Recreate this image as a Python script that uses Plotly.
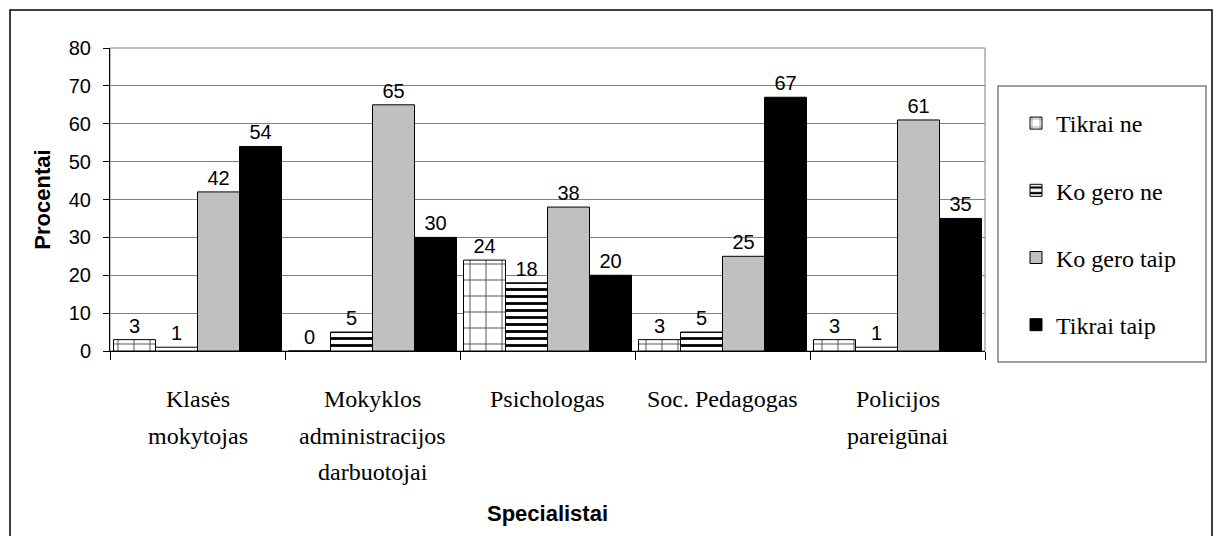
import plotly.graph_objects as go

categories = [
    "Klasės<br>mokytojas",
    "Mokyklos<br>administracijos<br>darbuotojai",
    "Psichologas",
    "Soc. Pedagogas",
    "Policijos<br>pareigūnai",
]
series_names = ["Tikrai ne", "Ko gero ne", "Ko gero taip", "Tikrai taip"]
tikrai_ne = [3, 0, 24, 3, 3]
ko_gero_ne = [1, 5, 18, 5, 1]
ko_gero_taip = [42, 65, 38, 25, 61]
tikrai_taip = [54, 30, 20, 67, 35]
y_ticks = [0, 10, 20, 30, 40, 50, 60, 70, 80]

# the page body has an 8px margin: the figure is drawn at (8, 8)
OFF = 8
W, H = 1223 - OFF, 544 - 2 * OFF
L, R, T, B = 110 - OFF, 985 - OFF, 48 - OFF, 351 - OFF  # plot area in figure pixels


def px_x(p):
    """screen pixel x -> paper coordinate"""
    return (p - OFF - L) / (R - L)


def px_y(p):
    """screen pixel y -> paper coordinate"""
    return (B - (p - OFF)) / (B - T)


serif = "Liberation Serif, Times New Roman, serif"
sans = "Liberation Sans, Arial, sans-serif"

styles = [
    dict(color="white", pattern=dict(shape="+", size=16, solidity=0.12, fgcolor="#555555",
                                     bgcolor="white", fillmode="replace")),
    dict(color="white", pattern=dict(shape="-", size=7, solidity=0.4, fgcolor="black",
                                     bgcolor="white", fillmode="replace")),
    dict(color="#C0C0C0"),
    dict(color="black"),
]

fig = go.Figure()
for i, (name, vals) in enumerate(zip(series_names, [tikrai_ne, ko_gero_ne, ko_gero_taip, tikrai_taip])):
    marker = dict(styles[i])
    marker["line"] = dict(color="black", width=1)
    fig.add_trace(go.Bar(
        x=categories, y=vals, name=name, marker=marker,
        legendgroup=name,
        text=[str(v) for v in vals], textposition="outside",
        textfont=dict(family=sans, size=20, color="black"),
        cliponaxis=False,
    ))

# category labels, one annotation per text line (wider line spacing than plotly ticks allow)
annotations = []
for cat in categories:
    for j, line in enumerate(cat.split("<br>")):
        annotations.append(dict(
            x=cat, xref="x", y=0, yref="paper", yanchor="middle",
            yshift=-48 - 36.5 * j, text=line, showarrow=False,
            font=dict(family=serif, size=24, color="black"),
        ))

fig.update_layout(
    width=W, height=H,
    margin=dict(l=L, r=W - R, t=T, b=H - B, pad=0, autoexpand=False),
    paper_bgcolor="white", plot_bgcolor="white",
    barmode="group", bargap=0.04, bargroupgap=0,
    showlegend=True,
    legend=dict(
        x=px_x(1016), y=px_y(101), xanchor="left", yanchor="top",
        font=dict(family=serif, size=24, color="black"),
        bgcolor="rgba(0,0,0,0)", borderwidth=0,
        tracegroupgap=33,
    ),
    xaxis=dict(
        type="category", showline=True, linecolor="black", linewidth=1,
        ticks="outside", tickson="boundaries", ticklen=8, tickcolor="black",
        showticklabels=False, showgrid=False, automargin=False,
        title=dict(text="<b>Specialistai</b>", font=dict(family=sans, size=22, color="black"),
                   standoff=154),
    ),
    yaxis=dict(
        range=[0, 80], tickvals=y_ticks, showline=True, linecolor="black", linewidth=1,
        ticks="outside", ticklen=6, tickcolor="black", ticklabelstandoff=8,
        tickfont=dict(family=sans, size=20, color="black"),
        showgrid=True, gridcolor="#808080", gridwidth=1, zeroline=False, automargin=False,
        title=dict(text="<b>Procentai</b>", font=dict(family=sans, size=22, color="black"),
                   standoff=12),
    ),
    annotations=annotations,
    shapes=[
        # outer chart frame
        dict(type="rect", xref="paper", yref="paper",
             x0=px_x(10), x1=px_x(1212), y0=px_y(580), y1=px_y(10),
             line=dict(color="black", width=1.5), layer="below"),
        # plot area border
        dict(type="rect", xref="paper", yref="paper", x0=0, x1=1, y0=0, y1=1,
             line=dict(color="#808080", width=1), layer="below"),
        # legend frame
        dict(type="rect", xref="paper", yref="paper",
             x0=px_x(998), x1=px_x(1206), y0=px_y(362), y1=px_y(86),
             line=dict(color="#808080", width=1.5), layer="below"),
    ],
)

fig.write_html("out.html")
